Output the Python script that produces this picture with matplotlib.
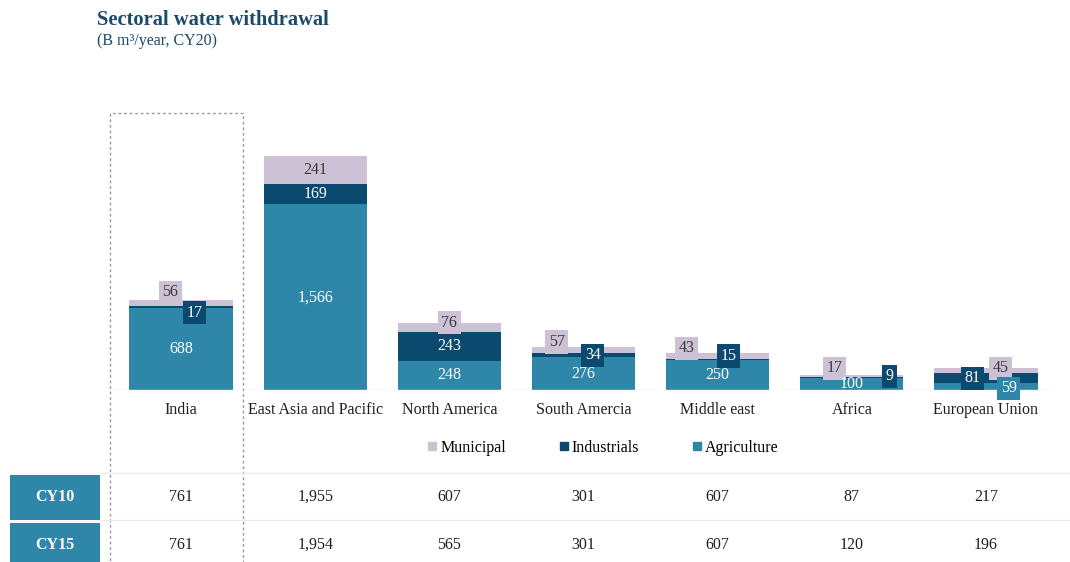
import matplotlib.pyplot as plt
from matplotlib.patches import Rectangle
from matplotlib.lines import Line2D
from matplotlib import transforms
import numpy as np

plt.rcParams['font.family'] = ['Liberation Serif', 'DejaVu Serif']

regions = ["India", "East Asia and Pacific", "North America", "South Amercia",
           "Middle east", "Africa", "European Union"]
agriculture = [688, 1566, 248, 276, 250, 100, 59]
industrials = [17, 169, 243, 34, 15, 9, 81]
municipal = [56, 241, 76, 57, 43, 17, 45]
cy10 = ["761", "1,955", "607", "301", "607", "87", "217"]
cy15 = ["761", "1,954", "565", "301", "607", "120", "196"]

c_agri = "#2e86a9"
c_ind = "#0b4a6e"
c_mun = "#cdc2d5"
c_text = "#1f1f1f"
fs = 11.5

fig = plt.figure(figsize=(10.7, 5.62), dpi=100)
ax = fig.add_axes([114 / 1070, 172 / 562, 939 / 1070, 290 / 562])

x = np.arange(len(regions))
w = 0.77
agri = np.array(agriculture)
ind = np.array(industrials)
mun = np.array(municipal)
ax.bar(x, agri, w, color=c_agri)
ax.bar(x, ind, w, bottom=agri, color=c_ind)
ax.bar(x, mun, w, bottom=agri + ind, color=c_mun)

ax.set_xlim(-0.5, 6.5)
ax.set_ylim(0, 2447)
for s in ax.spines.values():
    s.set_visible(False)
ax.axhline(0, color="#e3e3e3", lw=1)
ax.set_yticks([])
ax.set_xticks(x)
ax.set_xticklabels(regions, fontsize=fs, color=c_text)
ax.tick_params(axis="x", length=0, pad=9)

# offsets for the small boxed labels (x in category units, y in data units)
lbl = dict(fontsize=fs, ha="center", va="center")
box = "square,pad=0.22"
mun_dx = [-0.08, 0, 0, -0.2, -0.23, -0.13, 0.11]
mun_dy = [62, 0, 0, 38, 46, 59, 0]
ind_dx = [0.1, 0, 0, 0.07, 0.08, 0.28, -0.1]
ind_dy = [-55, 0, 0, -15, 22, 9, -41]
for i in x:
    top = agri[i] + ind[i] + mun[i]
    # municipal
    if mun[i] > 150:
        ax.text(i, agri[i] + ind[i] + mun[i] / 2, f"{mun[i]:,}", color="#3a3a3a", **lbl)
    else:
        ax.text(i + mun_dx[i], top + mun_dy[i], f"{mun[i]:,}", color="#3a3a3a",
                bbox=dict(boxstyle=box, fc=c_mun, ec="none"), **lbl)
    # industrials
    if ind[i] > 150:
        ax.text(i, agri[i] + ind[i] / 2, f"{ind[i]:,}", color="white", **lbl)
    else:
        ax.text(i + ind_dx[i], agri[i] + ind[i] + ind_dy[i], f"{ind[i]:,}", color="white",
                bbox=dict(boxstyle=box, fc=c_ind, ec="none"), **lbl)
    # agriculture
    if agri[i] > 150:
        ax.text(i, agri[i] / 2, f"{agri[i]:,}", color="white", **lbl)
    elif i == 6:
        ax.text(i + 0.17, 15, f"{agri[i]:,}", color="white",
                bbox=dict(boxstyle=box, fc=c_agri, ec="none"), **lbl)
    else:
        ax.text(i, 48, f"{agri[i]:,}", color="white", **lbl)

# title
fig.text(97 / 1070, 1 - 20 / 562, "Sectoral water withdrawal", fontsize=14.8,
         fontweight="bold", color="#1b4a6b", va="center")
fig.text(97 / 1070, 1 - 41 / 562, "(B m³/year, CY20)", fontsize=11.5,
         color="#1b4a6b", va="center")

# legend
handles = [Line2D([], [], marker="s", ls="none", color=c_mun, markersize=6),
           Line2D([], [], marker="s", ls="none", color=c_ind, markersize=6),
           Line2D([], [], marker="s", ls="none", color=c_agri, markersize=6)]
fig.legend(handles, ["Municipal", "Industrials", "Agriculture"], ncol=3,
           loc="center", bbox_to_anchor=(602 / 1070, 1 - 448 / 562),
           frameon=False, fontsize=fs, handletextpad=0.1, columnspacing=3.2,
           handlelength=0.8)

# table
tr = transforms.blended_transform_factory(ax.transData, fig.transFigure)
for yline in [473, 520]:
    fig.add_artist(Line2D([100 / 1070, 1], [1 - yline / 562] * 2, color="#ececec", lw=1))
rows = [("CY10", cy10, 497), ("CY15", cy15, 545)]
for name, vals, ypx in rows:
    fig.add_artist(Rectangle((10 / 1070, 1 - (ypx + 23) / 562), 90 / 1070, 45 / 562,
                             transform=fig.transFigure, fc=c_agri, ec="none"))
    fig.text(55 / 1070, 1 - ypx / 562, name, color="white", fontweight="bold",
             fontsize=fs, ha="center", va="center")
    for i, v in enumerate(vals):
        ax.text(i, 1 - ypx / 562, v, transform=tr, fontsize=fs, ha="center",
                va="center", color=c_text, clip_on=False)

# dashed highlight box around India
rect = Rectangle((-0.53, -0.05), 0.99, 1 - 113 / 562 + 0.05, transform=tr,
                 fill=False, ec="#9a9a9a", ls=(0, (2, 2)), lw=1, clip_on=False)
ax.add_artist(rect)

fig.savefig("out.png", dpi=100)
